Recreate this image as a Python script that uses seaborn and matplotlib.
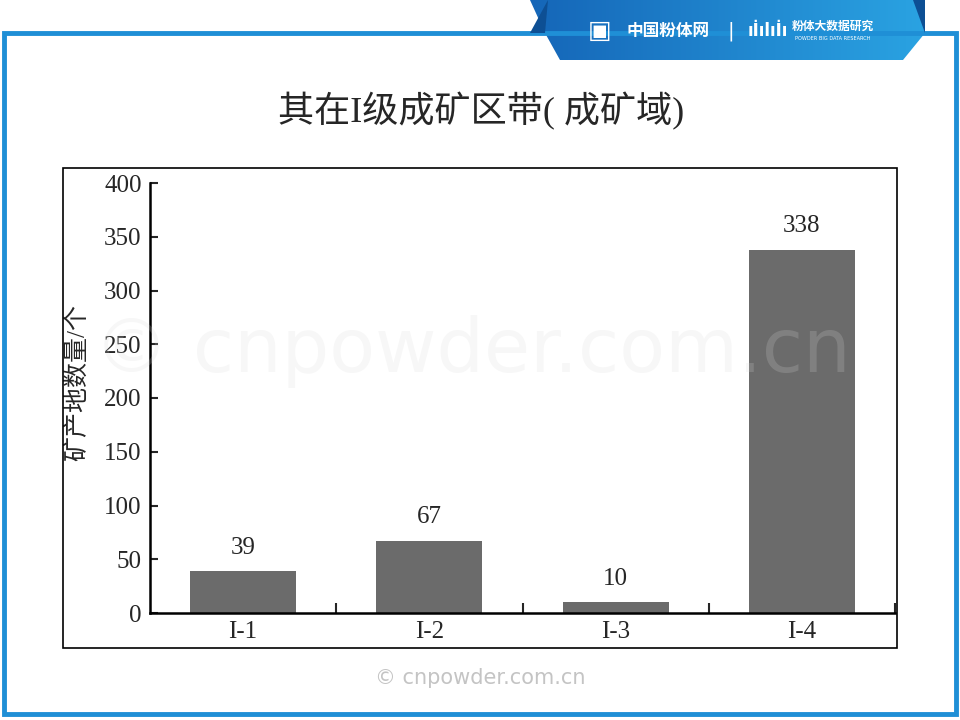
import numpy as np
import seaborn as sns
import matplotlib.pyplot as plt
from matplotlib.patches import Rectangle, Polygon

# chart data
regions = ['I-1', 'I-2', 'I-3', 'I-4']
counts = [39, 67, 10, 338]
y_ticks = [0, 50, 100, 150, 200, 250, 300, 350, 400]

title = '其在I级成矿区带( 成矿域)'
y_label = '矿产地数量/个'

sns.set_style('white')
plt.rcParams['font.family'] = ['Liberation Serif', 'Noto Sans CJK SC', 'DejaVu Sans']

W, H = 960, 720
fig = plt.figure(figsize=(9.6, 7.2), dpi=100)


def px(x, y):
    # pixel coords (top-left origin) -> figure fraction
    return x / W, 1 - y / H


# slide frame (blue border)
x0, y0 = px(4, 714)
x1, y1 = px(956, 33)
fig.patches.append(Rectangle((x0, y0), x1 - x0, y1 - y0, transform=fig.transFigure,
                             fill=False, edgecolor='#1f8fd6', linewidth=3.5, zorder=1))

# header ribbon with gradient
ribbon = [px(530, 0), px(925, 0), px(925, 33), px(903, 60), px(560, 60), px(545, 33)]
hax = fig.add_axes([530 / W, 1 - 60 / H, 395 / W, 60 / H])
hax.set_axis_off()
grad = np.linspace(0, 1, 256).reshape(1, -1)
im = hax.imshow(grad, aspect='auto', cmap=sns.blend_palette(['#1566b8', '#2aa3e2'], as_cmap=True),
                extent=[0, 1, 0, 1])
poly = Polygon(ribbon, closed=True, transform=fig.transFigure, facecolor='none', edgecolor='none')
fig.patches.append(poly)
im.set_clip_path(poly)
# darker folds at the ribbon ends
fig.patches.append(Polygon([px(530, 33), px(545, 33), px(548, 0)], closed=True,
                           transform=fig.transFigure, facecolor='#0d4f94', edgecolor='none'))
fig.patches.append(Polygon([px(913, 0), px(925, 0), px(925, 33)], closed=True,
                           transform=fig.transFigure, facecolor='#0d4f94', edgecolor='none'))

fig.text(*px(600, 31), '▣', color='white', fontsize=18, ha='center', va='center',
         family=['DejaVu Sans'])
fig.text(*px(668, 31), '中国粉体网', color='white', fontsize=12, fontweight='bold',
         ha='center', va='center', family=['Noto Sans CJK SC'])
fig.text(*px(731, 31), '|', color='white', fontsize=14, ha='center', va='center',
         family=['DejaVu Sans'])
fig.text(*px(768, 31), 'ıİılıİı', color='white', fontsize=12, fontweight='bold',
         ha='center', va='center', family=['DejaVu Sans'])
fig.text(*px(833, 26), '粉体大数据研究', color='white', fontsize=8.5, fontweight='bold',
         ha='center', va='center', family=['Noto Sans CJK SC'])
fig.text(*px(833, 39), 'POWDER BIG DATA RESEARCH', color='white', fontsize=3.6,
         ha='center', va='center', family=['DejaVu Sans'])

# title
fig.text(*px(481, 111), title, fontsize=26, ha='center', va='center')

# chart box
bx0, by0 = px(63, 648)
bx1, by1 = px(897, 168)
fig.patches.append(Rectangle((bx0, by0), bx1 - bx0, by1 - by0, transform=fig.transFigure,
                             fill=False, edgecolor='black', linewidth=1.2, zorder=2))

# main axes
ax = fig.add_axes([150 / W, 1 - 613 / H, (895 - 150) / W, (613 - 183) / H])
ax.patch.set_alpha(0)
sns.barplot(x=regions, y=counts, color='#6b6b6b', saturation=1, width=0.57,
            edgecolor='none', ax=ax)
ax.bar_label(ax.containers[0], padding=9, fontsize=18)

ax.set_xlim(-0.5, 3.5)
ax.set_ylim(0, 400)
ax.set_yticks(y_ticks)
ax.set_xticks(range(len(regions)))
ax.set_xticklabels(regions)
ax.set_xticks([i + 0.5 for i in range(len(regions))], minor=True)
ax.tick_params(axis='y', which='major', direction='in', length=6, width=1.5,
               labelsize=18, pad=6, left=True)
ax.tick_params(axis='x', which='major', length=0, labelsize=18, pad=6)
ax.tick_params(axis='x', which='minor', direction='in', length=7, width=1.5, bottom=True)
for side in ['top', 'right']:
    ax.spines[side].set_visible(False)
for side in ['left', 'bottom']:
    ax.spines[side].set_linewidth(1.8)
    ax.spines[side].set_color('black')
ax.set_xlabel('')
ax.set_ylabel(y_label, fontsize=18)
ax.yaxis.label.set_va('center')
ax.yaxis.set_label_coords(-0.098, 0.537)

# faint watermark laid over the chart
fig.text(*px(472, 352), '© cnpowder.com.cn', fontsize=54, color='#d8d8d8', alpha=0.2,
         ha='center', va='center', family=['DejaVu Sans'], zorder=5)

# footer watermark
fig.text(*px(480, 678), '© cnpowder.com.cn', fontsize=15, color='#c4c4c4',
         ha='center', va='center', family=['DejaVu Sans'])

fig.savefig('out.png', dpi=100, facecolor='white')
